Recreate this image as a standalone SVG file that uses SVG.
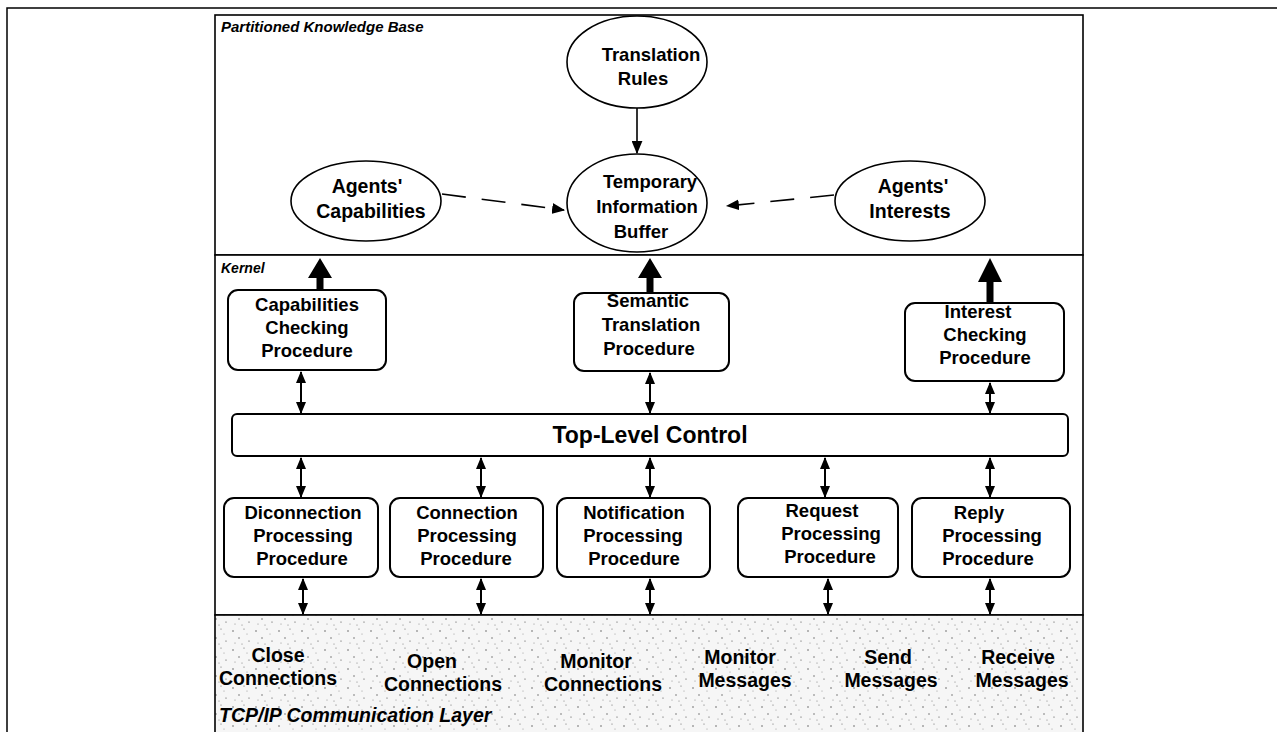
<svg xmlns="http://www.w3.org/2000/svg" width="1277" height="732" viewBox="0 0 1277 732">
<style>
.t{font-family:"Liberation Sans",Arial,sans-serif;font-weight:bold;fill:#000;text-anchor:middle}
.p{font-size:18.5px}
.e{font-size:18.5px}
.m{font-size:19.5px}
.lab{font-family:"Liberation Sans",Arial,sans-serif;font-weight:bold;font-style:italic;font-size:15px;fill:#000}
.box{fill:#fff;stroke:#000;stroke-width:2}
.ell{fill:#fff;stroke:#000;stroke-width:1.6}
.dbl{stroke:#000;stroke-width:2;fill:none;marker-start:url(#ah);marker-end:url(#ah)}
.thin{stroke:#000;stroke-width:1.6;fill:none;marker-end:url(#ah2)}
.dash{stroke:#000;stroke-width:1.6;fill:none;stroke-dasharray:24 16;marker-end:url(#ah2)}
</style>
<defs>
<marker id="ah" viewBox="0 0 12 10" refX="11" refY="5" markerWidth="12" markerHeight="10" markerUnits="userSpaceOnUse" orient="auto-start-reverse">
<path d="M0,0 L12,5 L0,10 z" fill="#000"/>
</marker>
<marker id="ah2" viewBox="0 0 12 10" refX="11" refY="5" markerWidth="13" markerHeight="11" markerUnits="userSpaceOnUse" orient="auto">
<path d="M0,0 L12,5 L0,10 z" fill="#000"/>
</marker>
<pattern id="stip" width="23" height="19" patternUnits="userSpaceOnUse">
<rect width="23" height="19" fill="#f6f6f6"/>
<circle cx="3" cy="4" r="0.7" fill="#444"/>
<circle cx="14" cy="2" r="0.6" fill="#666"/>
<circle cx="9" cy="11" r="0.7" fill="#555"/>
<circle cx="19" cy="14" r="0.6" fill="#444"/>
<circle cx="5" cy="16" r="0.5" fill="#777"/>
<circle cx="17" cy="7" r="0.5" fill="#888"/>
<circle cx="12" cy="17" r="0.5" fill="#666"/>
</pattern>
</defs>
<rect width="1277" height="732" fill="#fff"/>
<path d="M7,732 L7,8 L1277,8" fill="none" stroke="#000" stroke-width="1.5"/>

<g id="knowledge-base">
<rect x="215" y="15" width="868" height="240" fill="#fff" stroke="#000" stroke-width="1.6"/>
<text class="lab" x="221" y="32">Partitioned Knowledge Base</text>
</g>
<g id="kernel">
<rect x="215" y="255" width="868" height="360" fill="#fff" stroke="#000" stroke-width="1.6"/>
<text class="lab" x="221" y="273" style="font-size:14px">Kernel</text>
</g>
<g id="tcpip">
<rect x="215" y="615" width="868" height="130" fill="url(#stip)" stroke="#000" stroke-width="1.6"/>
<text class="lab" x="219" y="722" style="font-size:19.5px">TCP/IP Communication Layer</text>
</g>

<g id="translation-rules">
<ellipse class="ell" cx="637" cy="62" rx="70" ry="46"/>
<text class="t e" x="651" y="61">Translation</text>
<text class="t e" x="643" y="85">Rules</text>
</g>
<g id="temporary-buffer">
<ellipse class="ell" cx="637" cy="203" rx="70" ry="49"/>
<text class="t e" x="650" y="188">Temporary</text>
<text class="t e" x="647" y="213">Information</text>
<text class="t e" x="641" y="238">Buffer</text>
</g>
<g id="agents-capabilities">
<ellipse class="ell" cx="366" cy="201" rx="75" ry="40"/>
<text class="t e" x="367" y="193" style="font-size:19.5px">Agents'</text>
<text class="t e" x="371" y="218" style="font-size:19.5px">Capabilities</text>
</g>
<g id="agents-interests">
<ellipse class="ell" cx="910" cy="201" rx="75" ry="40"/>
<text class="t e" x="913" y="193" style="font-size:19.5px">Agents'</text>
<text class="t e" x="910" y="218" style="font-size:19.5px">Interests</text>
</g>

<g id="capabilities-checking">
<rect class="box" x="228" y="290" width="158" height="80" rx="10"/>
<text class="t p" x="307" y="311">Capabilities</text>
<text class="t p" x="307" y="334">Checking</text>
<text class="t p" x="307" y="357">Procedure</text>
</g>
<g id="semantic-translation">
<rect class="box" x="574" y="293" width="155" height="78" rx="10"/>
<text class="t p" x="648" y="307">Semantic</text>
<text class="t p" x="651" y="331">Translation</text>
<text class="t p" x="649" y="355">Procedure</text>
</g>
<g id="interest-checking">
<rect class="box" x="905" y="303" width="159" height="78" rx="10"/>
<text class="t p" x="978" y="318">Interest</text>
<text class="t p" x="985" y="341">Checking</text>
<text class="t p" x="985" y="364">Procedure</text>
</g>

<g id="top-level-control">
<rect class="box" x="232" y="414" width="836" height="42" rx="5"/>
<text class="t" x="650" y="443" style="font-size:23px">Top-Level Control</text>
</g>

<g id="diconnection">
<rect class="box" x="224" y="498" width="154" height="79" rx="10"/>
<text class="t p" x="303" y="519">Diconnection</text>
<text class="t p" x="303" y="542">Processing</text>
<text class="t p" x="302" y="565">Procedure</text>
</g>
<g id="connection">
<rect class="box" x="390" y="498" width="153" height="79" rx="10"/>
<text class="t p" x="467" y="519">Connection</text>
<text class="t p" x="467" y="542">Processing</text>
<text class="t p" x="466" y="565">Procedure</text>
</g>
<g id="notification">
<rect class="box" x="557" y="498" width="153" height="79" rx="10"/>
<text class="t p" x="634" y="519">Notification</text>
<text class="t p" x="633" y="542">Processing</text>
<text class="t p" x="634" y="565">Procedure</text>
</g>
<g id="request">
<rect class="box" x="738" y="498" width="160" height="79" rx="10"/>
<text class="t p" x="822" y="517">Request</text>
<text class="t p" x="831" y="540">Processing</text>
<text class="t p" x="830" y="563">Procedure</text>
</g>
<g id="reply">
<rect class="box" x="912" y="498" width="158" height="79" rx="10"/>
<text class="t p" x="979" y="519">Reply</text>
<text class="t p" x="992" y="542">Processing</text>
<text class="t p" x="988" y="565">Procedure</text>
</g>

<g id="tcp-functions">
<text class="t m" x="278" y="662">Close</text>
<text class="t m" x="278" y="685">Connections</text>
<text class="t m" x="432" y="668">Open</text>
<text class="t m" x="443" y="691">Connections</text>
<text class="t m" x="596" y="668">Monitor</text>
<text class="t m" x="603" y="691">Connections</text>
<text class="t m" x="740" y="664">Monitor</text>
<text class="t m" x="745" y="687">Messages</text>
<text class="t m" x="888" y="664">Send</text>
<text class="t m" x="891" y="687">Messages</text>
<text class="t m" x="1018" y="664">Receive</text>
<text class="t m" x="1022" y="687">Messages</text>
</g>

<g id="connectors">
<line class="thin" x1="637" y1="108" x2="637" y2="153"/>
<path class="dash" d="M442,194 L564,210"/>
<path class="dash" d="M834,195 L727,206"/>
<g fill="#000">
<path d="M316.5,290 V278 H308 L320,258 L332,278 H323.5 V290 z"/>
<path d="M646.5,293 V278 H638 L650,258 L662,278 H653.5 V293 z"/>
<path d="M986.5,303 V282 H978 L990,258 L1002,282 H993.5 V303 z"/>
</g>
<line class="dbl" x1="301" y1="372" x2="301" y2="413"/>
<line class="dbl" x1="650" y1="373" x2="650" y2="413"/>
<line class="dbl" x1="990" y1="383" x2="990" y2="413"/>
<line class="dbl" x1="301" y1="458" x2="301" y2="497"/>
<line class="dbl" x1="481" y1="458" x2="481" y2="497"/>
<line class="dbl" x1="650" y1="458" x2="650" y2="497"/>
<line class="dbl" x1="825" y1="458" x2="825" y2="497"/>
<line class="dbl" x1="990" y1="458" x2="990" y2="497"/>
<line class="dbl" x1="303" y1="579" x2="303" y2="614"/>
<line class="dbl" x1="481" y1="579" x2="481" y2="614"/>
<line class="dbl" x1="650" y1="579" x2="650" y2="614"/>
<line class="dbl" x1="828" y1="579" x2="828" y2="614"/>
<line class="dbl" x1="990" y1="579" x2="990" y2="614"/>
</g>
</svg>
